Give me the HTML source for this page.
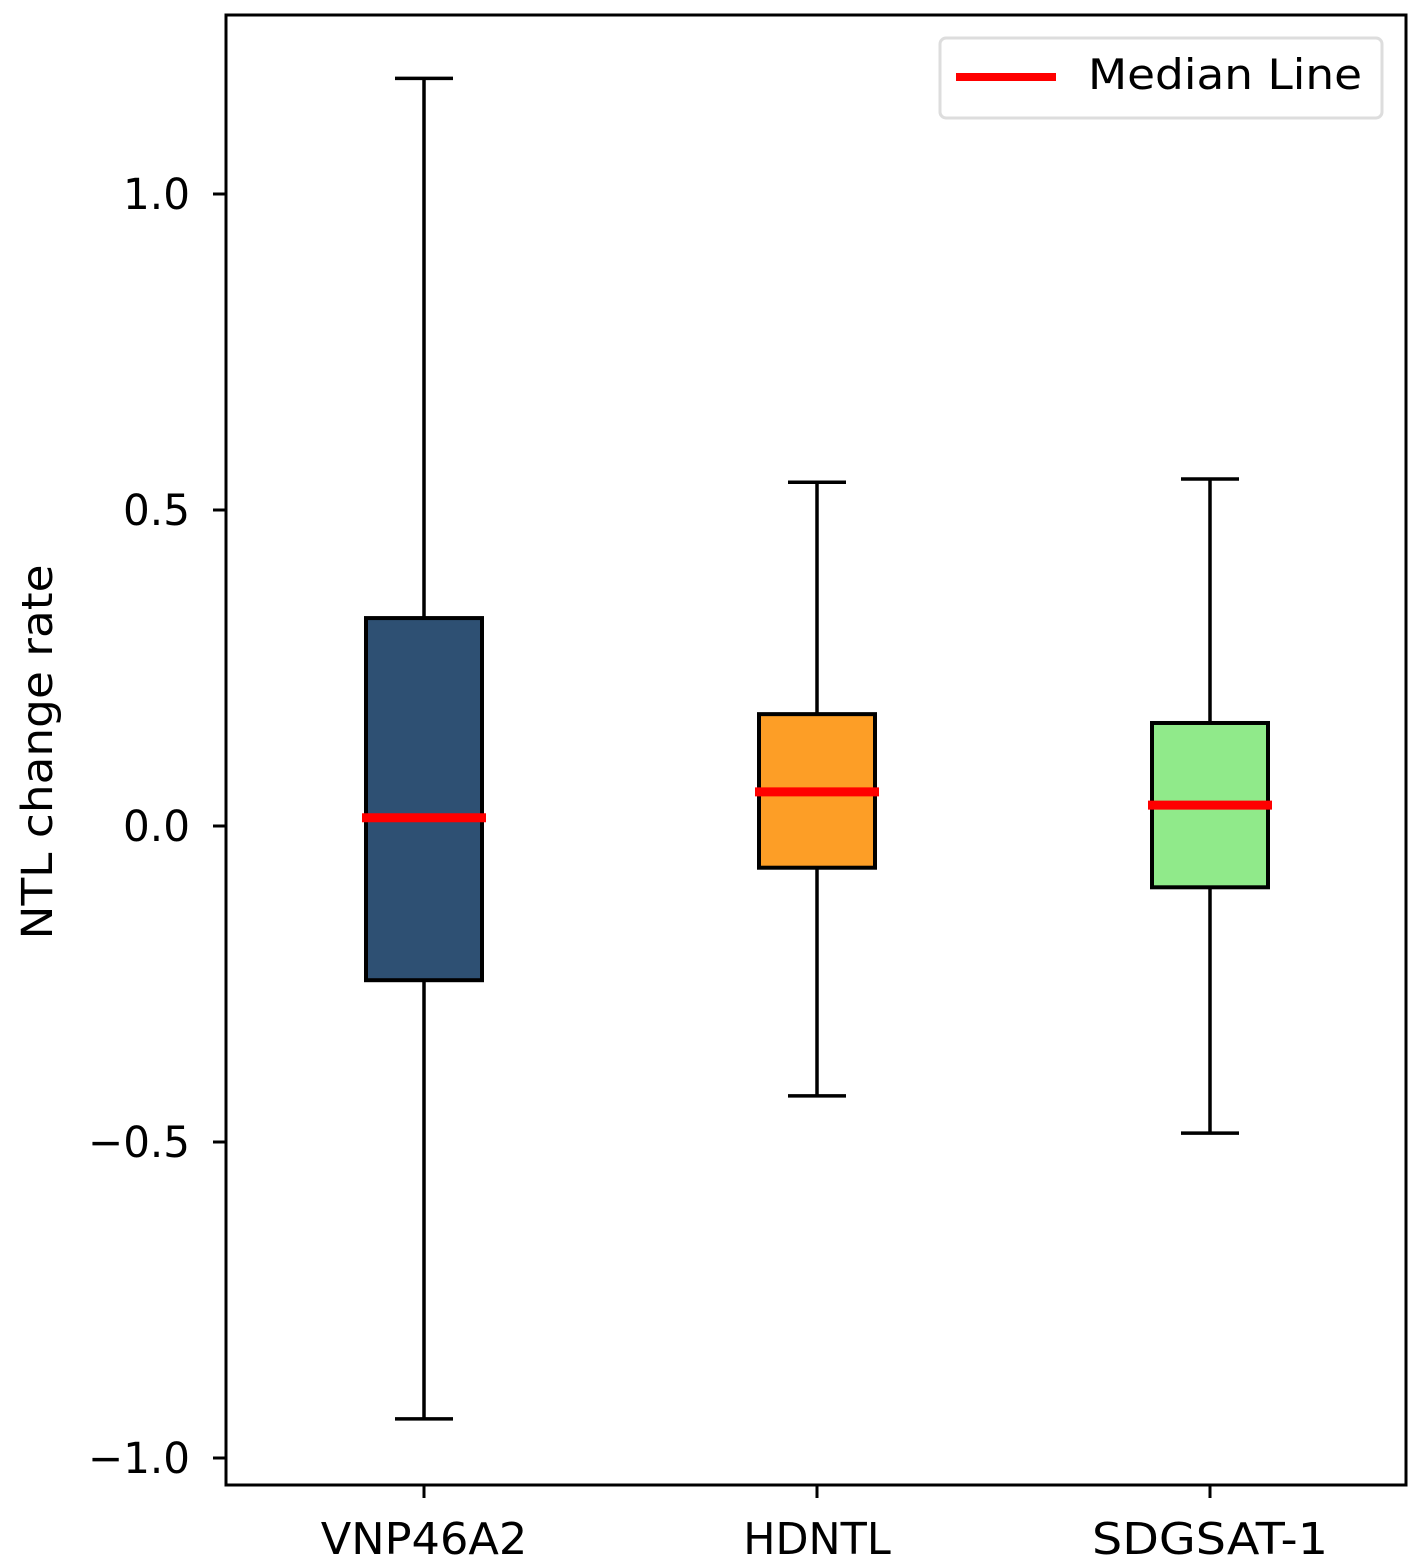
<!DOCTYPE html>
<html><head><meta charset="utf-8"><style>
html,body{margin:0;padding:0;background:#fff;}
svg{display:block;font-family:"DejaVu Sans","Liberation Sans",sans-serif;}
</style></head><body>
<svg id="chart" width="1422" height="1568" viewBox="0 0 1422 1568">
<rect x="0" y="0" width="1422" height="1568" fill="#fff"/>
<g id="marks"></g>
<rect x="226" y="15" width="1180" height="1470" fill="none" stroke="#000" stroke-width="3"/>
<g id="axes"></g>
<text x="52" y="752" font-size="43" text-anchor="middle" textLength="375" lengthAdjust="spacingAndGlyphs" transform="rotate(-90 52 752)">NTL change rate</text>
<g>
<rect x="940" y="38" width="442" height="80" rx="6" fill="#fff" stroke="#ddd" stroke-width="3"/>
<line x1="956" y1="77" x2="1056" y2="77" stroke="#ff0000" stroke-width="8"/>
<text x="1088" y="89" font-size="42" textLength="274" lengthAdjust="spacingAndGlyphs">Median Line</text>
</g>
</svg>
<script>
const categories = ["VNP46A2", "HDNTL", "SDGSAT-1"];
const whiskerHigh = [1.183, 0.544, 0.549];
const q3Values = [0.329, 0.177, 0.163];
const medianValues = [0.013, 0.054, 0.033];
const q1Values = [-0.244, -0.066, -0.097];
const whiskerLow = [-0.938, -0.427, -0.486];
const boxColors = ["#2e5073", "#fd9e26", "#90ea8a"];
const yTicks = [1.0, 0.5, 0.0, -0.5, -1.0];
const yTickLabels = ["1.0", "0.5", "0.0", "\u22120.5", "\u22121.0"];

const NS = "http://www.w3.org/2000/svg";
const y = v => 826 - v * 632;
const x = i => 424 + i * 393;
const boxW = 116, capW = 58;
const marks = document.getElementById("marks");
const axes = document.getElementById("axes");
function mk(tag, attrs, parent) {
  const e = document.createElementNS(NS, tag);
  for (const k in attrs) e.setAttribute(k, attrs[k]);
  parent.appendChild(e);
  return e;
}
categories.forEach((c, i) => {
  const cx = x(i);
  let e;
  e = mk("line", {x1: cx, x2: cx, y1: y(whiskerHigh[i]), y2: y(q3Values[i]), stroke: "#000", "stroke-width": 3.5}, marks);
  
  
  e = mk("line", {x1: cx, x2: cx, y1: y(q1Values[i]), y2: y(whiskerLow[i]), stroke: "#000", "stroke-width": 3.5}, marks);
  
  
  e = mk("line", {x1: cx - capW/2, x2: cx + capW/2, y1: y(whiskerHigh[i]), y2: y(whiskerHigh[i]), stroke: "#000", "stroke-width": 3.5}, marks);
  
  
  e = mk("line", {x1: cx - capW/2, x2: cx + capW/2, y1: y(whiskerLow[i]), y2: y(whiskerLow[i]), stroke: "#000", "stroke-width": 3.5}, marks);
  
  
  e = mk("rect", {x: cx - boxW/2, y: y(q3Values[i]), width: boxW, height: y(q1Values[i]) - y(q3Values[i]), fill: boxColors[i], stroke: "#000", "stroke-width": 4}, marks);
  
  
  e = mk("line", {x1: cx - boxW/2 - 4, x2: cx + boxW/2 + 4, y1: y(medianValues[i]), y2: y(medianValues[i]), stroke: "#ff0000", "stroke-width": 9}, marks);
  
  
  e = mk("line", {x1: cx, x2: cx, y1: 1485, y2: 1498, stroke: "#000", "stroke-width": 3}, axes);
  
  
  e = mk("text", {x: cx, y: 1554, "font-size": 44, "text-anchor": "middle", textLength: c.length * 29.5, lengthAdjust: "spacingAndGlyphs"}, axes);
  e.textContent = c;
  
  
});
yTicks.forEach((t, i) => {
  let e = mk("line", {x1: 213, x2: 226, y1: y(t), y2: y(t), stroke: "#000", "stroke-width": 3}, axes);
  
  
  e = mk("text", {x: 190, y: y(t) + 15, "font-size": 43, "text-anchor": "end", textLength: yTickLabels[i].length === 3 ? 67 : 102, lengthAdjust: "spacingAndGlyphs"}, axes);
  e.textContent = yTickLabels[i];
  
  
});
</script>
</body></html>
